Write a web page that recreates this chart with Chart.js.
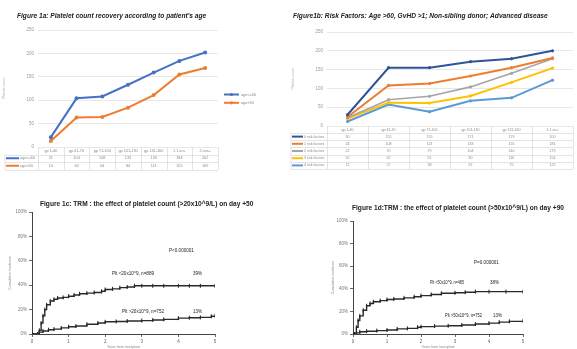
<!DOCTYPE html>
<html>
<head>
<meta charset="utf-8">
<script src="https://cdn.jsdelivr.net/npm/chart.js@4.4.0/dist/chart.umd.min.js"></script>
<style>
  body { margin: 0; background: #fff; width: 577px; height: 349px; overflow: hidden; position: relative; }
  canvas { position: absolute; }
</style>
</head>
<body>
<canvas id="c1a" width="290" height="175" style="left:0;top:0"></canvas>
<canvas id="c1b" width="287" height="175" style="left:290px;top:0"></canvas>
<canvas id="c1c" width="290" height="174" style="left:0;top:175px"></canvas>
<canvas id="c1d" width="287" height="174" style="left:290px;top:175px"></canvas>
<script>
// figure 1a - platelet count by age
const ageGroups = ["gp 1-40", "gp 41-70", "gp 71-100", "gp 101-130", "gp 131-160", "1.1 an+", "2 ans+"];
const ageYoung = [21, 104, 108, 133, 159, 184, 202];
const ageOld = [13, 63, 64, 84, 111, 155, 169];

// figure 1b - risk factors
const riskGroups = ["gp 1-40", "gp 41-70", "gp 71-100", "gp 101-130", "gp 131-160", "1.1 an+"];
const risk0 = [30, 155, 155, 171, 179, 200];
const risk1 = [24, 108, 113, 133, 155, 181];
const risk2 = [22, 70, 79, 104, 140, 179];
const risk3 = [20, 62, 61, 80, 116, 154];
const risk4 = [12, 57, 38, 67, 75, 122];
const countTicks = [0, 50, 100, 150, 200, 250];

// figure 1c - TRM, platelets 20x10^9/L (years, cumulative %)
const lowPlt20Years = [0, 0.15, 0.2, 0.25, 0.3, 0.35, 0.4, 0.5, 0.6, 0.7, 0.85, 1.0, 1.15, 1.3, 1.5, 1.7, 1.9, 2.0, 2.2, 2.4, 2.6, 2.8, 3.0, 3.3, 3.6, 4.0, 4.3, 4.6, 5.0];
const lowPlt20Trm = [0, 0, 3, 9, 15, 20, 24, 27, 28.5, 29.5, 30, 31, 32, 33, 33.5, 34, 35, 36.5, 37, 38, 38.5, 39.5, 39.5, 39.5, 39.5, 39.5, 39.5, 39.5, 39.5];
const highPlt20Years = [0, 0.15, 0.2, 0.3, 0.45, 0.6, 0.8, 1.0, 1.2, 1.5, 1.8, 2.0, 2.3, 2.6, 3.0, 3.3, 3.6, 4.0, 4.3, 4.6, 4.9, 5.0];
const highPlt20Trm = [0, 0, 1.5, 2.5, 3.5, 4, 5, 6, 6.5, 8, 9, 10, 10.3, 10.6, 11, 11.5, 12, 13, 13.3, 13.6, 14.5, 15];

// figure 1d - TRM, platelets 50x10^9/L
const lowPlt50Years = [0, 0.05, 0.1, 0.15, 0.2, 0.3, 0.4, 0.5, 0.6, 0.8, 1.0, 1.2, 1.5, 1.8, 2.0, 2.3, 2.6, 3.0, 3.3, 3.6, 4.0, 4.5, 5.0];
const lowPlt50Trm = [0, 0, 6, 12, 16, 21, 25, 27, 28.5, 29.5, 30.5, 31, 32, 33, 34, 35, 36, 36.5, 37, 37.5, 37.5, 37.5, 37.5];
const highPlt50Years = [0, 0.05, 0.1, 0.2, 0.4, 0.7, 1.0, 1.3, 1.6, 1.9, 2.0, 2.4, 2.8, 3.2, 3.6, 4.0, 4.3, 4.6, 5.0];
const highPlt50Trm = [0, 0, 1, 2, 2.5, 3, 3.5, 4.5, 5, 6, 6.5, 7, 7.3, 8, 8.8, 9.6, 10.5, 11.2, 11.7];
const pctTicks = [0, 20, 40, 60, 80, 100];

const pairs = (xs, ys) => xs.map((x, i) => ({ x: x, y: ys[i] }));

// free text: titles, notes
const panelText = {
  id: "panelText",
  afterDraw(chart, args, o) {
    const ctx = chart.ctx;
    ctx.save();
    ctx.textBaseline = "middle";
    (o.items || []).forEach(t => {
      ctx.font = t.font;
      ctx.fillStyle = t.color || "#222";
      ctx.textAlign = t.align || "left";
      if (t.w) ctx.fillText(t.text, t.x, t.y, t.w);
      else ctx.fillText(t.text, t.x, t.y);
    });
    ctx.restore();
  }
};

// excel style data table under the category axis
const dataTable = {
  id: "dataTable",
  afterDraw(chart, args, o) {
    if (!o.show) return;
    const { ctx, chartArea: a, scales } = chart;
    const x = scales.x;
    const n = chart.data.labels.length;
    const step = (a.right - a.left) / n;
    const sets = chart.data.datasets;
    const top = a.bottom;
    const bottom = top + o.headH + sets.length * o.rowH;
    ctx.save();
    ctx.strokeStyle = "#d9d9d9";
    ctx.lineWidth = 0.7;
    ctx.beginPath();
    for (let i = 0; i <= n; i++) {
      const xx = Math.round(a.left + i * step) + 0.5;
      ctx.moveTo(xx, top);
      ctx.lineTo(xx, bottom);
    }
    ctx.moveTo(o.left, top + o.headH);
    ctx.lineTo(o.left, bottom);
    for (let j = 0; j <= sets.length; j++) {
      const yy = Math.round(top + o.headH + j * o.rowH) + 0.5;
      ctx.moveTo(o.left, yy);
      ctx.lineTo(a.right, yy);
    }
    ctx.stroke();
    ctx.font = o.font;
    ctx.fillStyle = "#8a8a8a";
    ctx.textAlign = "center";
    ctx.textBaseline = "middle";
    chart.data.labels.forEach((l, i) => ctx.fillText(l, x.getPixelForValue(i), top + o.headH / 2, step - 3));
    sets.forEach((ds, j) => {
      const yy = top + o.headH + j * o.rowH + o.rowH / 2;
      ctx.strokeStyle = ds.borderColor;
      ctx.lineWidth = 2;
      ctx.beginPath();
      ctx.moveTo(o.left + 1, yy);
      ctx.lineTo(o.left + o.swatch, yy);
      ctx.stroke();
      ctx.fillStyle = "#8a8a8a";
      ctx.textAlign = "left";
      ctx.fillText(ds.label, o.left + o.swatch + 1, yy, a.left - o.left - o.swatch - 2);
      ctx.textAlign = "center";
      ds.data.forEach((v, i) => ctx.fillText(String(v), x.getPixelForValue(i), yy));
    });
    ctx.restore();
  }
};

// small legend to the right of fig 1a
const sideLegend = {
  id: "sideLegend",
  afterDraw(chart, args, o) {
    if (!o.show) return;
    const ctx = chart.ctx;
    ctx.save();
    ctx.font = o.font;
    ctx.textBaseline = "middle";
    chart.data.datasets.forEach((ds, j) => {
      const yy = o.y + j * o.gap;
      ctx.strokeStyle = ds.borderColor;
      ctx.lineWidth = 2;
      ctx.beginPath();
      ctx.moveTo(o.x, yy);
      ctx.lineTo(o.x + 15, yy);
      ctx.stroke();
      ctx.fillStyle = ds.borderColor;
      ctx.beginPath();
      ctx.arc(o.x + 7.5, yy, 1.6, 0, Math.PI * 2);
      ctx.fill();
      ctx.fillStyle = "#8a8a8a";
      ctx.fillText(ds.label, o.x + 17, yy);
    });
    ctx.restore();
  }
};

Chart.register(panelText, dataTable, sideLegend);
Chart.defaults.font.family = "'Liberation Sans', Arial, sans-serif";
Chart.defaults.animation = false;
Chart.defaults.responsive = false;
Chart.defaults.devicePixelRatio = 1;
Chart.defaults.plugins.legend.display = false;
Chart.defaults.plugins.tooltip.enabled = false;

const tickFont = { size: 4.5 };

function excelLine(ds, color, w, r) {
  return {
    label: ds.label, data: ds.data, borderColor: color, backgroundColor: color,
    borderWidth: w, pointRadius: r, pointBorderWidth: 0, tension: 0
  };
}

function countScales(leftWidth) {
  return {
    x: {
      type: "category", offset: true,
      grid: { display: false, drawTicks: false }, border: { display: false },
      ticks: { display: false }
    },
    y: {
      min: 0, max: 250,
      afterBuildTicks: s => { s.ticks = countTicks.map(v => ({ value: v })); },
      ticks: { font: tickFont, color: "#9a9a9a", padding: 4 },
      grid: { color: "#e2e2e2", lineWidth: 0.8, drawTicks: false }, border: { display: false },
      title: { display: true, text: "Platelet count", font: { size: 3.5 }, color: "#b0b0b0", padding: 0 },
      afterFit: s => { s.width = leftWidth; }
    }
  };
}

new Chart(document.getElementById("c1a"), {
  type: "line",
  data: {
    labels: ageGroups,
    datasets: [
      excelLine({ label: "age<=60", data: ageYoung }, "#4472c4", 2, 2),
      excelLine({ label: "age>60", data: ageOld }, "#ed7d31", 2, 2)
    ]
  },
  options: {
    layout: { padding: { top: 30, left: 2, right: 72, bottom: 28 } },
    scales: countScales(36),
    plugins: {
      panelText: { items: [
        { text: "Figure 1a: Platelet count recovery according to patient's age", x: 17, y: 16, w: 196, font: "italic bold 6.6px 'Liberation Sans'" }
      ] },
      dataTable: { show: true, headH: 7.5, rowH: 7.5, left: 5, swatch: 14, font: "3.8px 'Liberation Sans'" },
      sideLegend: { show: true, x: 224, y: 94.5, gap: 8.3, font: "3.8px 'Liberation Sans'" }
    }
  }
});

new Chart(document.getElementById("c1b"), {
  type: "line",
  data: {
    labels: riskGroups,
    datasets: [
      excelLine({ label: "0 risk factors", data: risk0 }, "#2f5597", 2, 1.6),
      excelLine({ label: "1 risk factors", data: risk1 }, "#ed7d31", 2, 1.6),
      excelLine({ label: "2 risk factors", data: risk2 }, "#a5a5a5", 1.6, 1.6),
      excelLine({ label: "3 risk factors", data: risk3 }, "#ffc000", 2, 1.6),
      excelLine({ label: "4 risk factors", data: risk4 }, "#5b9bd5", 2, 1.6)
    ]
  },
  options: {
    layout: { padding: { top: 32, left: 1, right: 0, bottom: 49 } },
    scales: countScales(36),
    plugins: {
      panelText: { items: [
        { text: "Figure1b: Risk Factors: Age >60, GvHD >1; Non-sibling donor; Advanced disease", x: 3, y: 16, w: 255, font: "italic bold 6.6px 'Liberation Sans'" }
      ] },
      dataTable: { show: true, headH: 7, rowH: 7.2, left: 1, swatch: 12, font: "3.6px 'Liberation Sans'" }
    }
  }
});

function kmCurve(label, pts) {
  return {
    label: label, data: pts, stepped: true,
    borderColor: "#2a2a2a", backgroundColor: "#2a2a2a", borderWidth: 1.4,
    pointStyle: "line", rotation: 90, pointRadius: 2, pointBorderWidth: 1,
    pointBorderColor: "#222"
  };
}

function kmScales(leftWidth) {
  const axisGrid = { drawOnChartArea: false, tickLength: 3, color: "#444", lineWidth: 0.8 };
  return {
    x: {
      type: "linear", min: 0, max: 5,
      ticks: { stepSize: 1, font: tickFont, color: "#666", padding: 2 },
      grid: axisGrid, border: { color: "#444", width: 1 },
      title: { display: true, text: "Years from transplant", font: { size: 3.5 }, color: "#888", padding: 0 },
      afterFit: s => { s.height = 15; }
    },
    y: {
      min: 0, max: 100,
      afterBuildTicks: s => { s.ticks = pctTicks.map(v => ({ value: v })); },
      ticks: { font: tickFont, color: "#777", padding: 2, callback: v => v + "%" },
      grid: axisGrid, border: { color: "#444", width: 1 },
      title: { display: true, text: "Cumulative incidence", font: { size: 3.5 }, color: "#888", padding: 0 },
      afterFit: s => { s.width = leftWidth; }
    }
  };
}

new Chart(document.getElementById("c1c"), {
  type: "line",
  data: {
    datasets: [
      kmCurve("Plt <20", pairs(lowPlt20Years, lowPlt20Trm)),
      kmCurve("Plt >20", pairs(highPlt20Years, highPlt20Trm))
    ]
  },
  options: {
    layout: { padding: { top: 37, left: 8, right: 75, bottom: 0 } },
    scales: kmScales(24),
    plugins: {
      panelText: { items: [
        { text: "Figure 1c: TRM : the effect of platelet count (>20x10^9/L) on day +50", x: 40, y: 29, w: 223, font: "bold 6.6px 'Liberation Sans'" },
        { text: "P<0.000001", x: 169, y: 76, w: 30, font: "4.6px 'Liberation Sans'" },
        { text: "Plt <20x10^9, n=889", x: 112, y: 99, w: 61, font: "4.6px 'Liberation Sans'" },
        { text: "39%", x: 193, y: 99, w: 9, font: "4.6px 'Liberation Sans'" },
        { text: "Plt >20x10^9, n=752", x: 122, y: 136.5, w: 55, font: "4.6px 'Liberation Sans'" },
        { text: "13%", x: 193, y: 136.5, w: 9, font: "4.6px 'Liberation Sans'" }
      ] }
    }
  }
});

new Chart(document.getElementById("c1d"), {
  type: "line",
  data: {
    datasets: [
      kmCurve("Plt <50", pairs(lowPlt50Years, lowPlt50Trm)),
      kmCurve("Plt >50", pairs(highPlt50Years, highPlt50Trm))
    ]
  },
  options: {
    layout: { padding: { top: 46, left: 41, right: 54, bottom: 0 } },
    scales: kmScales(22),
    plugins: {
      panelText: { items: [
        { text: "Figure 1d:TRM : the effect of platelet count (>50x10^9/L) on day +90", x: 62, y: 33, w: 216, font: "bold 6.6px 'Liberation Sans'" },
        { text: "P=0.000001", x: 184, y: 88, w: 27, font: "4.6px 'Liberation Sans'" },
        { text: "Plt <50x10^9, n=485", x: 140, y: 108, w: 34, font: "4.6px 'Liberation Sans'" },
        { text: "38%", x: 200, y: 108, w: 9, font: "4.6px 'Liberation Sans'" },
        { text: "Plt >50x10^9, n=752", x: 155, y: 141, w: 37, font: "4.6px 'Liberation Sans'" },
        { text: "13%", x: 203, y: 141, w: 9, font: "4.6px 'Liberation Sans'" }
      ] }
    }
  }
});
</script>
</body>
</html>
